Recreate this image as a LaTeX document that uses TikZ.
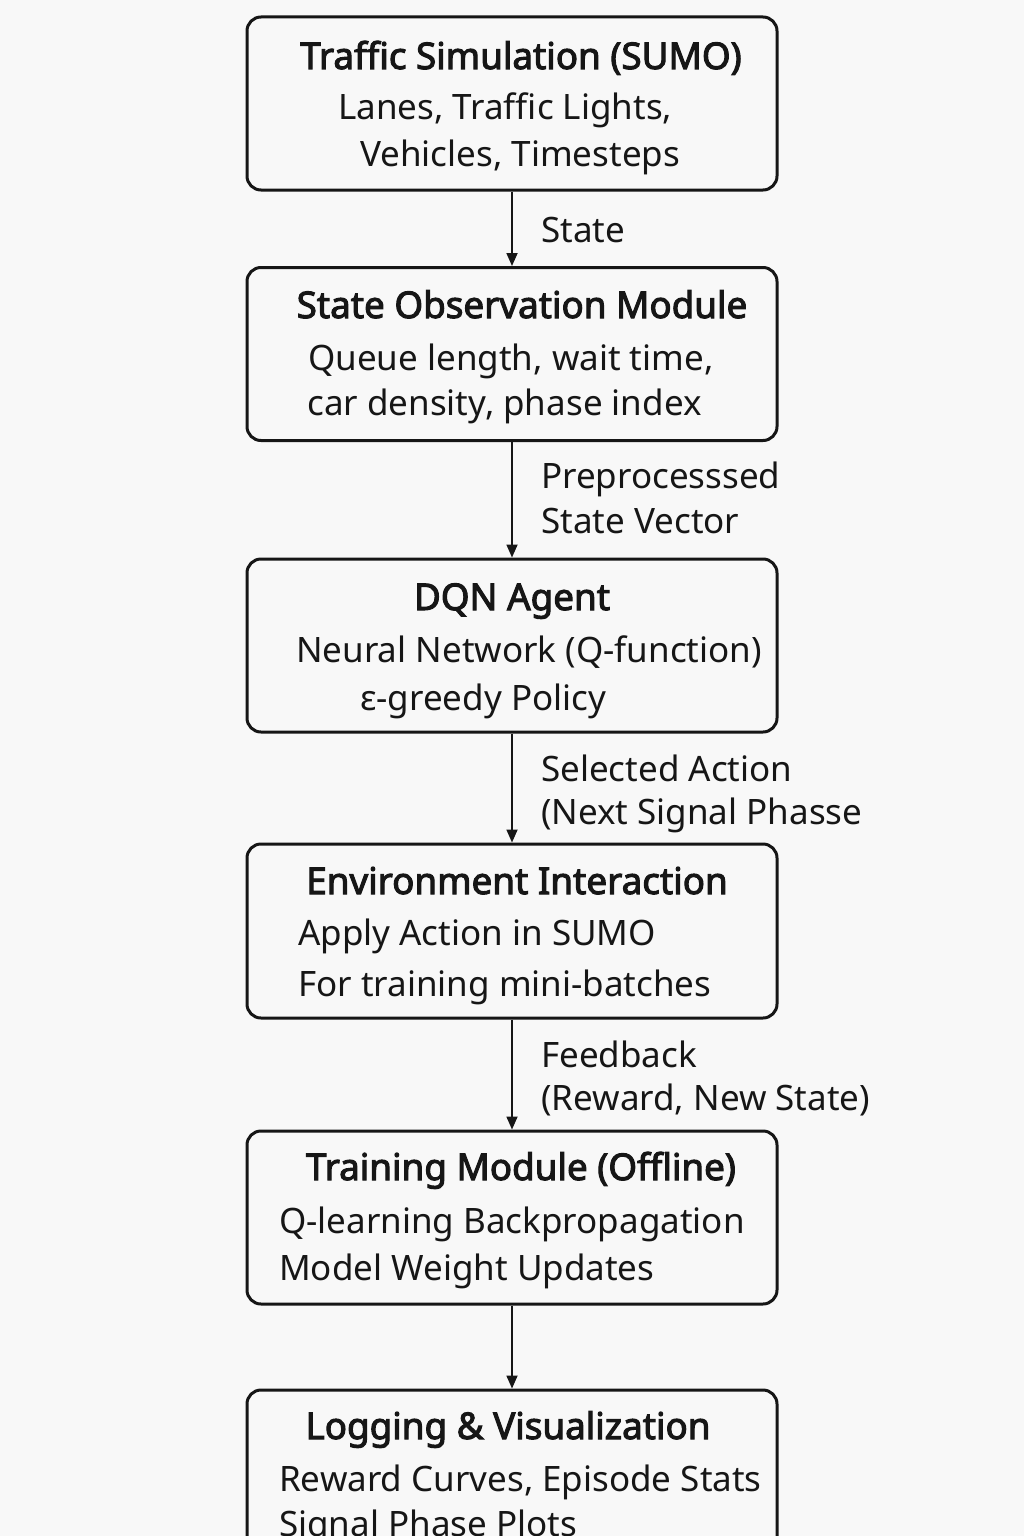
\documentclass[tikz,border=0pt]{standalone}
\usepackage{fontspec}
\setmainfont{Noto Sans}[BoldFont={Noto Sans}, BoldFeatures={FakeBold=2.8}]
\usetikzlibrary{arrows.meta}
\definecolor{bg}{HTML}{F8F8F8}
\definecolor{ink}{HTML}{161616}
\tikzset{
 box/.style={draw=ink, line width=3, rounded corners=14, fill=bg, minimum width=530, minimum height=173, inner sep=0},
 ttl/.style={anchor=base, font=\fontsize{36.8}{40}\selectfont\bfseries, text=ink, inner sep=0},
 txt/.style={anchor=base west, font=\fontsize{35}{40}\selectfont, text=ink, inner sep=0},
 lbl/.style={anchor=base west, font=\fontsize{35}{40}\selectfont, text=ink, inner sep=0},
 flow/.style={draw=ink, line width=1.8, -{Triangle[length=13,width=11]}},
}
\begin{document}
\begin{tikzpicture}[x=1pt,y=-1pt]
\useasboundingbox (0,0) rectangle (1024,1536);
\fill[bg] (0,0) rectangle (1024,1536);
\clip (0,0) rectangle (1024,1536);
% boxes
\node[box] (b1) at (512,103.5) {};
\node[box] (b2) at (512,354) {};
\node[box] (b3) at (512,645.5) {};
\node[box, minimum height=174] (b4) at (512,931) {};
\node[box] (b5) at (512,1217.5) {};
\node[box, minimum height=180] (b6) at (512,1480) {};
% box 1
\node[ttl] (t1) at (521,69) {Traffic Simulation (SUMO)};
\node[txt] (l1a) at (338,120) {Lanes, Traffic Lights,};
\node[txt] (l1b) at (360,166) {Vehicles, Timesteps};
% box 2
\node[ttl] (t2) at (522,318) {State Observation Module};
\node[txt] (l2a) at (308,370) {Queue length, wait time,};
\node[txt] (l2b) at (307,415) {car density, phase index};
% box 3
\node[ttl] (t3) at (512,610) {DQN Agent};
\node[txt] (l3a) at (296,662) {Neural Network (Q-function)};
\node[txt] (l3b) at (360,710) {ε-greedy Policy};
% box 4
\node[ttl] (t4) at (517,894) {Environment Interaction};
\node[txt] (l4a) at (298,945) {Apply Action in SUMO};
\node[txt] (l4b) at (298,996) {For training mini-batches};
% box 5
\node[ttl] (t5) at (521,1180) {Training Module (Offline)};
\node[txt] (l5a) at (279,1233) {Q-learning Backpropagation};
\node[txt] (l5b) at (279,1280) {Model Weight Updates};
% box 6
\node[ttl] (t6) at (508,1439) {Logging \& Visualization};
\node[txt] (l6a) at (279,1491) {Reward Curves, Episode Stats};
\node[txt] (l6b) at (279,1536) {Signal Phase Plots};
% connectors
\draw[flow] (b1.south) -- (b2.north);
\draw[flow] (b2.south) -- (b3.north);
\draw[flow] (b3.south) -- (b4.north);
\draw[flow] (b4.south) -- (b5.north);
\draw[flow] (b5.south) -- (b6.north);
% labels
\node[lbl] (e1) at (541,242) {State};
\node[lbl] (e2a) at (541,488) {Preprocesssed};
\node[lbl] (e2b) at (541,533) {State Vector};
\node[lbl] (e3a) at (541,781) {Selected Action};
\node[lbl] (e3b) at (541,824) {(Next Signal Phasse};
\node[lbl] (e4a) at (541,1067) {Feedback};
\node[lbl] (e4b) at (541,1110) {(Reward, New State)};
\end{tikzpicture}
\end{document}
